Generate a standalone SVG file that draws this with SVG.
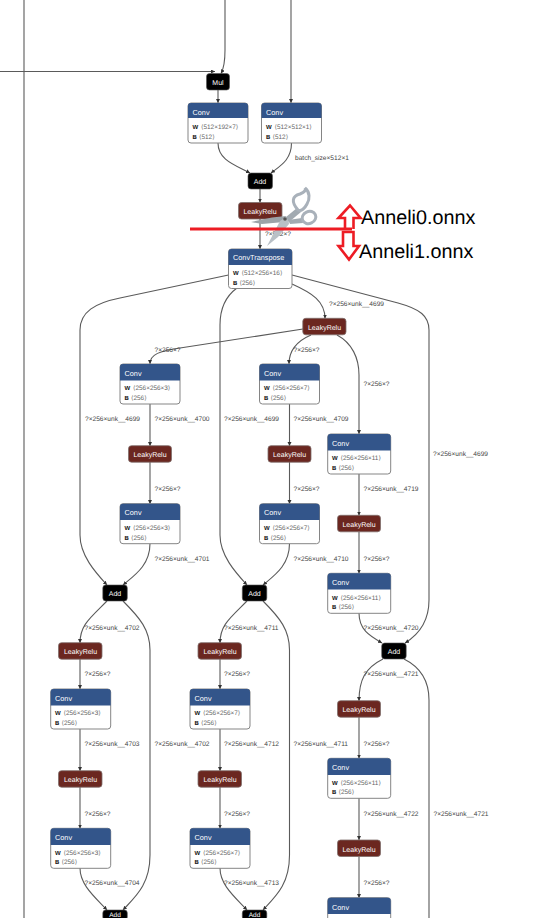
<svg xmlns="http://www.w3.org/2000/svg" width="544" height="918" viewBox="0 0 544 918">
<style>
text{font-family:"Liberation Sans",Arial,sans-serif;text-rendering:geometricPrecision}
.e{fill:none;stroke:#5a5a5a;stroke-width:1.1;marker-end:url(#a)}
.n{fill:none;stroke:#5a5a5a;stroke-width:1.1}
.l{font-size:6.6px;fill:#444}
.b{fill:#fff;stroke:#858585;stroke-width:1}
.h{fill:#33558a}
.t{font-size:7.3px;fill:#fff}
.c{font-size:7px;fill:#fff;text-anchor:middle}
.w{font-size:6px;font-weight:bold;fill:#111}
.v{font-size:6.4px;fill:#666}
.k{fill:#000;stroke:#555;stroke-width:.6}
.r{fill:#6b2720;stroke:#7f6f6c;stroke-width:.8}
.o{fill:none;stroke:#ed1c24;stroke-width:2.6}
.s{font-size:19.8px;fill:#000}
.m{fill:none;stroke:#a9b1ba;stroke-width:3}
</style>
<defs>
<marker id="a" markerUnits="userSpaceOnUse" markerWidth="5" markerHeight="5" refX="4" refY="2" orient="auto"><path d="M0 0L4 2L0 4Z" fill="#333"/></marker>
</defs>
<rect width="544" height="918" fill="#fff"/>
<g id="connectors">
<path class="n" d="M24 0V918"/>
<path class="e" d="M0 71.500H215"/>
<path class="e" d="M225 0V50C225 62 224 68 221 73.500"/>
<path class="e" d="M218 90V103"/>
<path class="e" d="M291 0V103"/>
<path class="e" d="M218 143C218 160 235 165 250 173"/>
<path class="e" d="M291.500 143C291.500 160 280 166 271 173"/>
<path class="e" d="M260 189V202.500"/>
<path class="e" d="M260 219V249"/>
<path class="e" d="M228.500 275L120 298C95 303 80 312 80 330V535C80 555 95 572 107 585"/>
<path class="e" d="M237 288C226 296 220 308 220 325V535C220 555 235 572 247 585"/>
<path class="e" d="M292 284C312 293 325 301 325 318.500"/>
<path class="e" d="M292 275L398 303C420 309 429 316 429 330V600C429 622 418 635 405 643"/>
<path class="e" d="M303 329L180 348C160 351 150 354 150 364"/>
<path class="e" d="M311 335C297 341 289 350 289 364"/>
<path class="e" d="M337 335C352 343 359 358 359 375V434"/>
<path class="e" d="M150 404V446"/>
<path class="e" d="M150 462V504"/>
<path class="e" d="M150 543.500C150 565 135 575 123 585"/>
<path class="e" d="M289.500 404V446"/>
<path class="e" d="M289.500 462V504"/>
<path class="e" d="M289.500 543.500C289.500 565 275 575 263 585"/>
<path class="e" d="M359 474V515.500"/>
<path class="e" d="M359 532V573.500"/>
<path class="e" d="M359 613C359 630 370 636 382 643"/>
<path class="e" d="M107 601C90 618 80 625 80 643"/>
<path class="e" d="M247 601C230 618 220 625 220 643"/>
<path class="e" d="M123 601C140 618 150 630 150 650V855C150 885 135 897 123 910"/>
<path class="e" d="M263 601C280 618 289.500 630 289.500 650V855C289.500 885 275 897 263 910"/>
<path class="e" d="M80 659V689"/>
<path class="e" d="M80 729V771"/>
<path class="e" d="M80 787V828.500"/>
<path class="e" d="M80 868C80 885 95 897 107 910"/>
<path class="e" d="M220 659V689"/>
<path class="e" d="M220 729V771"/>
<path class="e" d="M220 787V828.500"/>
<path class="e" d="M220 868C220 885 235 897 247 910"/>
<path class="e" d="M383 659C365 668 359 680 359 701"/>
<path class="n" d="M404 659C420 667 429 680 429 700V918"/>
<path class="e" d="M359 717V758.500"/>
<path class="e" d="M359 798V840"/>
<path class="e" d="M359 856.500V898"/>
</g>
<g id="edge-labels">
<text class="l" x="295" y="159.500">batch_size×512×1</text>
<text class="l" x="265" y="235.500">?×512×?</text>
<text class="l" x="329" y="305.500">?×256×unk__4699</text>
<text class="l" x="154.500" y="352">?×256×?</text>
<text class="l" x="293.500" y="352">?×256×?</text>
<text class="l" x="363.500" y="386">?×256×?</text>
<text class="l" x="85" y="421">?×256×unk__4699</text>
<text class="l" x="154.500" y="421">?×256×unk__4700</text>
<text class="l" x="224" y="421">?×256×unk__4699</text>
<text class="l" x="293.500" y="421">?×256×unk__4709</text>
<text class="l" x="433" y="456">?×256×unk__4699</text>
<text class="l" x="154.500" y="491">?×256×?</text>
<text class="l" x="293.500" y="491">?×256×?</text>
<text class="l" x="363.500" y="491">?×256×unk__4719</text>
<text class="l" x="154.500" y="561">?×256×unk__4701</text>
<text class="l" x="293.500" y="561">?×256×unk__4710</text>
<text class="l" x="363.500" y="561">?×256×?</text>
<text class="l" x="84.500" y="630">?×256×unk__4702</text>
<text class="l" x="224" y="630">?×256×unk__4711</text>
<text class="l" x="363.500" y="630">?×256×unk__4720</text>
<text class="l" x="84.500" y="676">?×256×?</text>
<text class="l" x="224" y="676">?×256×?</text>
<text class="l" x="363.500" y="676">?×256×unk__4721</text>
<text class="l" x="84.500" y="746">?×256×unk__4703</text>
<text class="l" x="154.500" y="746">?×256×unk__4702</text>
<text class="l" x="224" y="746">?×256×unk__4712</text>
<text class="l" x="293.500" y="746">?×256×unk__4711</text>
<text class="l" x="363.500" y="746">?×256×?</text>
<text class="l" x="84.500" y="816">?×256×?</text>
<text class="l" x="224" y="816">?×256×?</text>
<text class="l" x="363.500" y="816">?×256×unk__4722</text>
<text class="l" x="433.500" y="816">?×256×unk__4721</text>
<text class="l" x="84.500" y="885">?×256×unk__4704</text>
<text class="l" x="224" y="885">?×256×unk__4713</text>
<text class="l" x="363.500" y="885">?×256×?</text>
</g>
<g id="mul"><rect class="k" x="206.500" y="73.500" width="23" height="16.500" rx="3"/><text class="c" x="218" y="84.500">Mul</text></g>
<g id="conv1"><rect class="b" x="188" y="103" width="60" height="40" rx="3"/><path class="h" d="M188 118V106a3 3 0 0 1 3-3H245a3 3 0 0 1 3 3V118Z"/><text class="t" x="192.500" y="114.500">Conv</text><text class="w" x="192.500" y="129">W</text><text class="v" x="201" y="129">⟨512×192×7⟩</text><text class="w" x="192.500" y="139">B</text><text class="v" x="199" y="139">⟨512⟩</text></g>
<g id="conv2"><rect class="b" x="261.500" y="103" width="60" height="40" rx="3"/><path class="h" d="M261.500 118V106a3 3 0 0 1 3-3H318.500a3 3 0 0 1 3 3V118Z"/><text class="t" x="266" y="114.500">Conv</text><text class="w" x="266" y="129">W</text><text class="v" x="274.500" y="129">⟨512×512×1⟩</text><text class="w" x="266" y="139">B</text><text class="v" x="272.500" y="139">⟨512⟩</text></g>
<g id="add1"><rect class="k" x="248" y="173" width="24.500" height="16" rx="3"/><text class="c" x="260" y="184">Add</text></g>
<g id="leaky1"><rect class="r" x="238.500" y="202.500" width="43.500" height="16.500" rx="3"/><text class="c" x="260" y="213.500">LeakyRelu</text></g>
<g id="convtranspose"><rect class="b" x="228.500" y="249" width="63.500" height="39.500" rx="3"/><path class="h" d="M228.500 265V252a3 3 0 0 1 3-3H289a3 3 0 0 1 3 3V265Z"/><text class="t" x="233" y="260">ConvTranspose</text><text class="w" x="233" y="274.500">W</text><text class="v" x="241.500" y="274.500">⟨512×256×16⟩</text><text class="w" x="233" y="284.500">B</text><text class="v" x="239.500" y="284.500">⟨256⟩</text></g>
<g id="leaky2"><rect class="r" x="302.800" y="318.300" width="43.200" height="16.500" rx="3"/><text class="c" x="324.500" y="329.500">LeakyRelu</text></g>
<g id="conv-a1"><rect class="b" x="120" y="364" width="60" height="40" rx="3"/><path class="h" d="M120 380.500V367a3 3 0 0 1 3-3H177a3 3 0 0 1 3 3V380.500Z"/><text class="t" x="124.500" y="376">Conv</text><text class="w" x="124.500" y="390">W</text><text class="v" x="133" y="390">⟨256×256×3⟩</text><text class="w" x="124.500" y="400">B</text><text class="v" x="131" y="400">⟨256⟩</text></g>
<g id="leaky-a1"><rect class="r" x="128.500" y="445.700" width="43" height="16.500" rx="3"/><text class="c" x="150" y="457">LeakyRelu</text></g>
<g id="conv-a2"><rect class="b" x="120" y="503.700" width="60" height="40" rx="3"/><path class="h" d="M120 520V506.700a3 3 0 0 1 3-3H177a3 3 0 0 1 3 3V520Z"/><text class="t" x="124.500" y="515">Conv</text><text class="w" x="124.500" y="530">W</text><text class="v" x="133" y="530">⟨256×256×3⟩</text><text class="w" x="124.500" y="539.500">B</text><text class="v" x="131" y="539.500">⟨256⟩</text></g>
<g id="conv-b1"><rect class="b" x="259.500" y="364" width="60" height="40" rx="3"/><path class="h" d="M259.500 380.500V367a3 3 0 0 1 3-3H316.500a3 3 0 0 1 3 3V380.500Z"/><text class="t" x="264" y="376">Conv</text><text class="w" x="264" y="390">W</text><text class="v" x="272.500" y="390">⟨256×256×7⟩</text><text class="w" x="264" y="400">B</text><text class="v" x="270.500" y="400">⟨256⟩</text></g>
<g id="leaky-b1"><rect class="r" x="268" y="445.700" width="43" height="16.500" rx="3"/><text class="c" x="289.500" y="457">LeakyRelu</text></g>
<g id="conv-b2"><rect class="b" x="259.500" y="503.700" width="60" height="40" rx="3"/><path class="h" d="M259.500 520V506.700a3 3 0 0 1 3-3H316.500a3 3 0 0 1 3 3V520Z"/><text class="t" x="264" y="515">Conv</text><text class="w" x="264" y="530">W</text><text class="v" x="272.500" y="530">⟨256×256×7⟩</text><text class="w" x="264" y="539.500">B</text><text class="v" x="270.500" y="539.500">⟨256⟩</text></g>
<g id="conv-c1"><rect class="b" x="327.700" y="434" width="63" height="40" rx="3"/><path class="h" d="M327.700 450.500V437a3 3 0 0 1 3-3H387.700a3 3 0 0 1 3 3V450.500Z"/><text class="t" x="332" y="445.500">Conv</text><text class="w" x="332" y="460">W</text><text class="v" x="340.500" y="460">⟨256×256×11⟩</text><text class="w" x="332" y="470">B</text><text class="v" x="338.500" y="470">⟨256⟩</text></g>
<g id="leaky-c1"><rect class="r" x="337.500" y="515.300" width="43" height="16.500" rx="3"/><text class="c" x="359" y="527">LeakyRelu</text></g>
<g id="conv-c2"><rect class="b" x="327.700" y="573.300" width="63" height="40" rx="3"/><path class="h" d="M327.700 589.500V576.300a3 3 0 0 1 3-3H387.700a3 3 0 0 1 3 3V589.500Z"/><text class="t" x="332" y="585">Conv</text><text class="w" x="332" y="599.500">W</text><text class="v" x="340.500" y="599.500">⟨256×256×11⟩</text><text class="w" x="332" y="609">B</text><text class="v" x="338.500" y="609">⟨256⟩</text></g>
<g id="add-a"><rect class="k" x="102.800" y="585" width="24.500" height="16" rx="3"/><text class="c" x="115" y="596">Add</text></g>
<g id="add-b"><rect class="k" x="242.300" y="585" width="24.500" height="16" rx="3"/><text class="c" x="254.500" y="596">Add</text></g>
<g id="add-c"><rect class="k" x="381.700" y="643" width="24.500" height="16" rx="3"/><text class="c" x="394" y="654">Add</text></g>
<g id="leaky-a2"><rect class="r" x="58.500" y="642.700" width="43.500" height="16.500" rx="3"/><text class="c" x="80.500" y="654">LeakyRelu</text></g>
<g id="conv-a3"><rect class="b" x="50.700" y="689" width="60" height="40" rx="3"/><path class="h" d="M50.700 705.500V692a3 3 0 0 1 3-3H107.700a3 3 0 0 1 3 3V705.500Z"/><text class="t" x="55" y="700.500">Conv</text><text class="w" x="55" y="715">W</text><text class="v" x="63.500" y="715">⟨256×256×3⟩</text><text class="w" x="55" y="725">B</text><text class="v" x="61.500" y="725">⟨256⟩</text></g>
<g id="leaky-a3"><rect class="r" x="58.500" y="770.700" width="43.500" height="16.500" rx="3"/><text class="c" x="80.500" y="782">LeakyRelu</text></g>
<g id="conv-a4"><rect class="b" x="50.700" y="828.300" width="60" height="40" rx="3"/><path class="h" d="M50.700 845V831.300a3 3 0 0 1 3-3H107.700a3 3 0 0 1 3 3V845Z"/><text class="t" x="55" y="840">Conv</text><text class="w" x="55" y="854.500">W</text><text class="v" x="63.500" y="854.500">⟨256×256×3⟩</text><text class="w" x="55" y="864">B</text><text class="v" x="61.500" y="864">⟨256⟩</text></g>
<g id="leaky-b2"><rect class="r" x="198" y="642.700" width="43.500" height="16.500" rx="3"/><text class="c" x="220" y="654">LeakyRelu</text></g>
<g id="conv-b3"><rect class="b" x="190" y="689" width="60" height="40" rx="3"/><path class="h" d="M190 705.500V692a3 3 0 0 1 3-3H247a3 3 0 0 1 3 3V705.500Z"/><text class="t" x="194.500" y="700.500">Conv</text><text class="w" x="194.500" y="715">W</text><text class="v" x="203" y="715">⟨256×256×7⟩</text><text class="w" x="194.500" y="725">B</text><text class="v" x="201" y="725">⟨256⟩</text></g>
<g id="leaky-b3"><rect class="r" x="198" y="770.700" width="43.500" height="16.500" rx="3"/><text class="c" x="220" y="782">LeakyRelu</text></g>
<g id="conv-b4"><rect class="b" x="190" y="828.300" width="60" height="40" rx="3"/><path class="h" d="M190 845V831.300a3 3 0 0 1 3-3H247a3 3 0 0 1 3 3V845Z"/><text class="t" x="194.500" y="840">Conv</text><text class="w" x="194.500" y="854.500">W</text><text class="v" x="203" y="854.500">⟨256×256×7⟩</text><text class="w" x="194.500" y="864">B</text><text class="v" x="201" y="864">⟨256⟩</text></g>
<g id="leaky-d1"><rect class="r" x="337.500" y="700.700" width="43" height="16.500" rx="3"/><text class="c" x="359" y="712">LeakyRelu</text></g>
<g id="conv-d1"><rect class="b" x="327.700" y="758.300" width="63" height="40" rx="3"/><path class="h" d="M327.700 775V761.300a3 3 0 0 1 3-3H387.700a3 3 0 0 1 3 3V775Z"/><text class="t" x="332" y="770">Conv</text><text class="w" x="332" y="784.500">W</text><text class="v" x="340.500" y="784.500">⟨256×256×11⟩</text><text class="w" x="332" y="794">B</text><text class="v" x="338.500" y="794">⟨256⟩</text></g>
<g id="leaky-d2"><rect class="r" x="337.500" y="840" width="43" height="16.500" rx="3"/><text class="c" x="359" y="851.500">LeakyRelu</text></g>
<g id="conv-d2"><path class="b" d="M327.700 919V900.700a3 3 0 0 1 3-3H387.700a3 3 0 0 1 3 3V919Z"/><path class="h" d="M327.700 914V900.700a3 3 0 0 1 3-3H387.700a3 3 0 0 1 3 3V914Z"/><text class="t" x="332" y="909.500">Conv</text></g>
<g id="add-d"><rect class="k" x="102.800" y="910" width="24.500" height="10" rx="3"/><text class="c" x="115" y="916.500" style="font-size:6.5px">Add</text></g>
<g id="add-e"><rect class="k" x="242.300" y="910" width="24.500" height="10" rx="3"/><text class="c" x="254.500" y="916.500" style="font-size:6.5px">Add</text></g>
<g id="scissors">
<path d="M251 222L272 217.500L286 216L284 222L262 224Z" fill="#9ca3a8"/>
<path d="M267 246L280 221L288 216L289 224L278 237Z" fill="#b9c0c6"/>
<path d="M286 217L297 208L301 212L289 222Z" fill="#a2aab1"/>
<path d="M288 220L302 218L303 223L290 224Z" fill="#a2aab1"/>
<path class="m" d="M298 210C291 202 292 196 300 194C305 192 306 190 305 188C310 192 310 199 307 204C305 208 301 212 298 210Z"/>
<ellipse class="m" cx="309" cy="217.500" rx="7" ry="6" transform="rotate(-25 309 217.500)"/>
<circle cx="285" cy="219" r="1.800" fill="#555"/>
</g>
<g id="annotation">
<path d="M190 229H352" fill="none" stroke="#ed1c24" stroke-width="2.800"/>
<path class="o" d="M345 229V218H338.500L350 205.500L360.500 218H353.500V229"/>
<path class="o" d="M343 232H353.500V246H359L349 259.500L338.500 246H343Z"/>
<text class="s" x="361" y="223.500">Anneli0.onnx</text>
<text class="s" x="359" y="258">Anneli1.onnx</text>
</g>
</svg>
